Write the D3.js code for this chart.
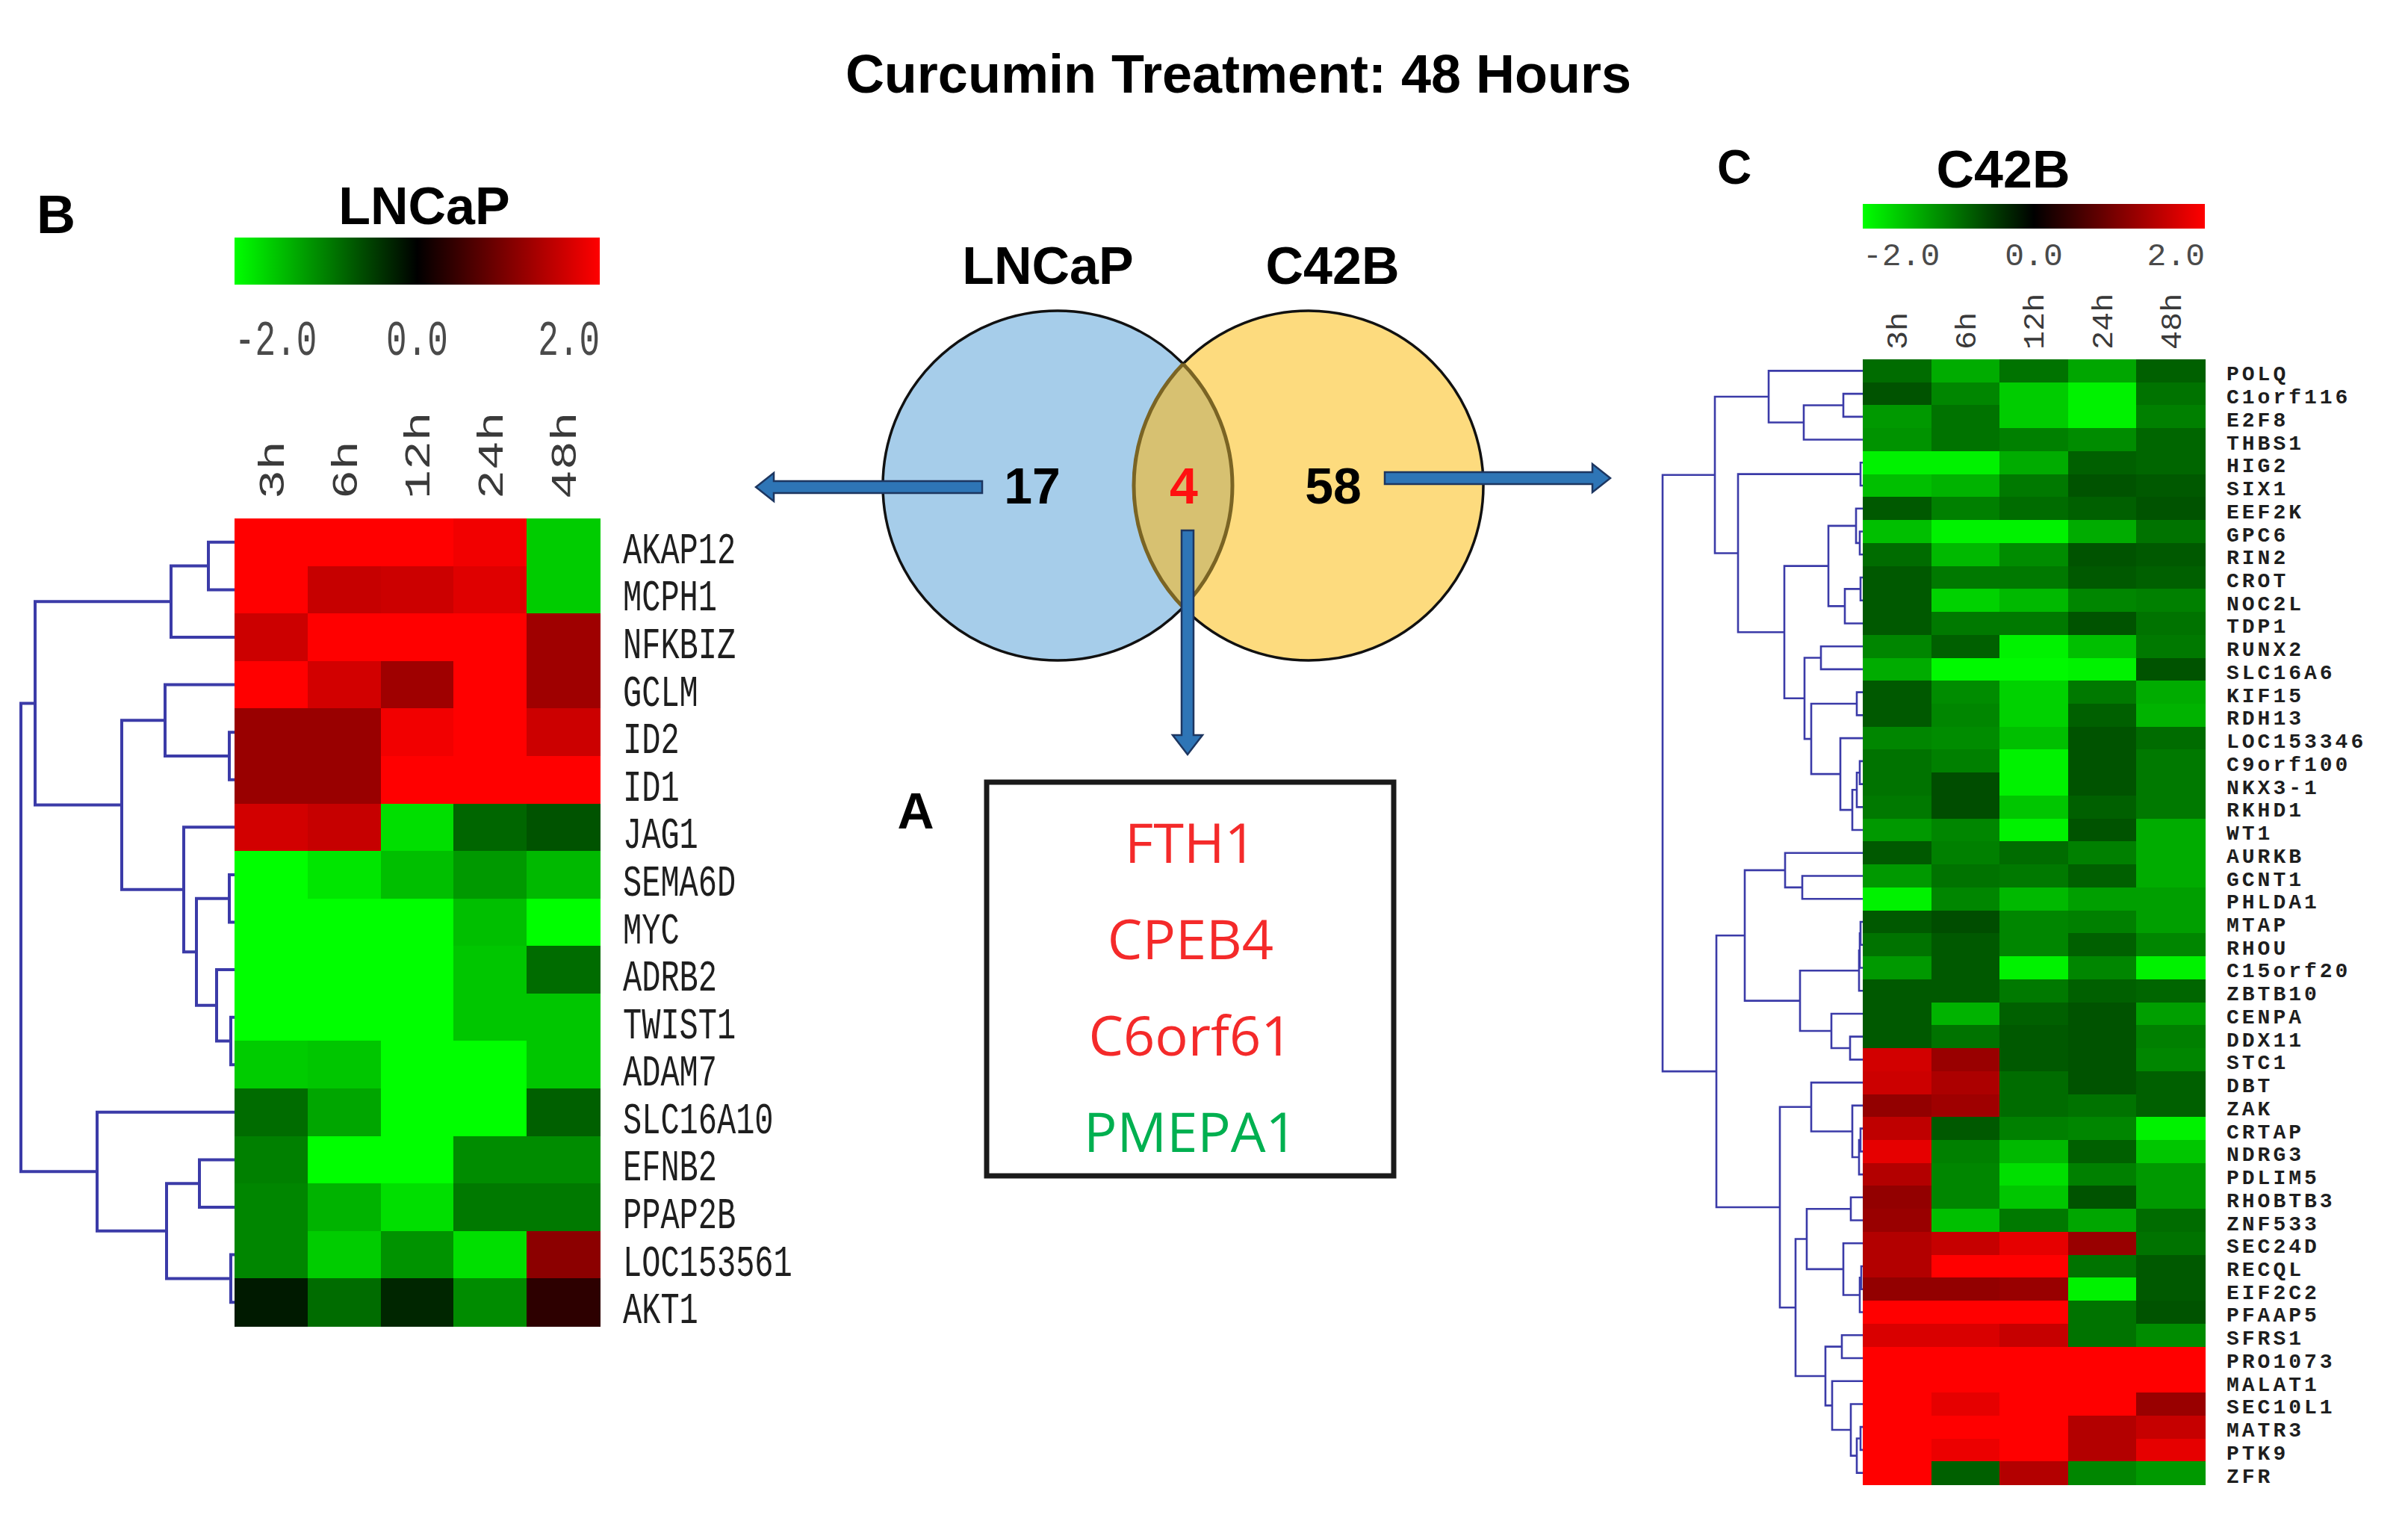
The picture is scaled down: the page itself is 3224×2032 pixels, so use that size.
<!DOCTYPE html>
<html>
<head>
<meta charset="utf-8">
<script src="https://cdn.jsdelivr.net/npm/d3@7"></script>
<style>
  html, body { margin: 0; padding: 0; background: #fff; }
  svg { display: block; }
</style>
</head>
<body>
<div id="chart"></div>
<script>
// ---- data ----
var timeLabels = ["3h", "6h", "12h", "24h", "48h"];
var colorTicks = [-2, 0, 2];

var lncapGenes = ["AKAP12", "MCPH1", "NFKBIZ", "GCLM", "ID2", "ID1", "JAG1", "SEMA6D", "MYC",
  "ADRB2", "TWIST1", "ADAM7", "SLC16A10", "EFNB2", "PPAP2B", "LOC153561", "AKT1"];

var lncapValues = [
  [2, 2, 2, 1.9, -1.6],
  [2, 1.55, 1.6, 1.75, -1.6],
  [1.6, 2, 2, 2, 1.25],
  [2, 1.65, 1.25, 2, 1.25],
  [1.2, 1.2, 1.9, 2, 1.6],
  [1.2, 1.2, 2, 2, 2],
  [1.65, 1.55, -1.75, -0.8, -0.65],
  [-2, -1.8, -1.5, -1.2, -1.45],
  [-2, -2, -2, -1.5, -2],
  [-2, -2, -2, -1.55, -0.85],
  [-2, -2, -2, -1.55, -1.55],
  [-1.6, -1.55, -2, -2, -1.55],
  [-0.85, -1.3, -2, -2, -0.75],
  [-1.0, -2, -2, -1.1, -1.1],
  [-1.05, -1.4, -1.75, -0.95, -0.95],
  [-1.05, -1.6, -1.15, -1.75, 1.1],
  [-0.2, -0.85, -0.3, -1.1, 0.35]
];

// [left, right, merge height]
var lncapTree = [
  [[["AKAP12", "MCPH1", 35], "NFKBIZ", 85],
   [["GCLM", ["ID2", "ID1", 7], 93],
    ["JAG1", [["SEMA6D", "MYC", 7], ["ADRB2", ["TWIST1", "ADAM7", 5], 24], 51], 68], 151], 267],
  ["SLC16A10", [["EFNB2", "PPAP2B", 47], ["LOC153561", "AKT1", 5], 91], 184],
  286];

var c42bGenes = ["POLQ", "C1orf116", "E2F8", "THBS1", "HIG2", "SIX1", "EEF2K", "GPC6", "RIN2",
  "CROT", "NOC2L", "TDP1", "RUNX2", "SLC16A6", "KIF15", "RDH13", "LOC153346", "C9orf100",
  "NKX3-1", "RKHD1", "WT1", "AURKB", "GCNT1", "PHLDA1", "MTAP", "RHOU", "C15orf20", "ZBTB10",
  "CENPA", "DDX11", "STC1", "DBT", "ZAK", "CRTAP", "NDRG3", "PDLIM5", "RHOBTB3", "ZNF533",
  "SEC24D", "RECQL", "EIF2C2", "PFAAP5", "SFRS1", "PRO1073", "MALAT1", "SEC10L1", "MATR3",
  "PTK9", "ZFR"];

var c42bValues = [
  [-0.85, -1.35, -0.9, -1.3, -0.75],
  [-0.65, -1.05, -1.6, -1.9, -0.9],
  [-1.2, -0.9, -1.6, -1.9, -1.0],
  [-1.15, -0.9, -1.0, -1.1, -0.8],
  [-1.9, -1.9, -1.35, -0.75, -0.8],
  [-1.5, -1.4, -0.95, -0.65, -0.7],
  [-0.7, -1.0, -0.85, -0.75, -0.65],
  [-1.5, -1.9, -1.9, -1.35, -0.9],
  [-0.85, -1.45, -1.1, -0.65, -0.7],
  [-0.7, -0.95, -0.95, -0.7, -0.75],
  [-0.7, -1.65, -1.45, -1.05, -1.0],
  [-0.7, -0.95, -0.95, -0.65, -0.9],
  [-1.05, -0.75, -1.9, -1.5, -0.95],
  [-1.35, -1.95, -1.95, -1.9, -0.65],
  [-0.7, -1.1, -1.65, -0.95, -1.35],
  [-0.7, -1.05, -1.65, -0.75, -1.4],
  [-1.05, -1.1, -1.5, -0.65, -0.85],
  [-0.9, -1.0, -1.9, -0.65, -0.95],
  [-0.9, -0.6, -1.9, -0.65, -0.95],
  [-0.95, -0.6, -1.55, -0.75, -0.95],
  [-1.2, -1.05, -1.9, -0.65, -1.35],
  [-0.7, -1.0, -0.85, -1.0, -1.35],
  [-1.2, -0.9, -0.95, -0.75, -1.35],
  [-1.9, -1.05, -1.45, -1.25, -1.25],
  [-0.7, -0.6, -1.05, -1.0, -1.25],
  [-0.9, -0.7, -1.05, -0.75, -1.05],
  [-1.2, -0.7, -1.9, -1.05, -1.9],
  [-0.7, -0.7, -0.95, -0.75, -0.8],
  [-0.7, -1.4, -0.75, -0.65, -1.25],
  [-0.7, -0.9, -0.7, -0.65, -1.0],
  [1.65, 1.2, -0.7, -0.65, -1.05],
  [1.6, 1.35, -0.85, -0.65, -0.75],
  [1.15, 1.25, -0.85, -0.9, -0.75],
  [1.5, -0.7, -1.0, -1.05, -1.9],
  [1.8, -1.0, -1.45, -0.75, -1.55],
  [1.4, -1.05, -1.75, -1.0, -1.2],
  [1.15, -1.05, -1.55, -0.65, -1.2],
  [1.2, -1.5, -0.95, -1.3, -0.85],
  [1.4, 1.55, 1.8, 1.2, -0.9],
  [1.4, 2, 2, -0.9, -0.7],
  [1.15, 1.15, 1.2, -1.9, -0.7],
  [2, 2, 2, -0.9, -0.65],
  [1.7, 1.7, 1.55, -0.9, -1.1],
  [2, 2, 2, 2, 2],
  [2, 2, 2, 2, 2],
  [2, 1.8, 2, 2, 1.2],
  [2, 2, 2, 1.4, 1.55],
  [2, 1.85, 2, 1.4, 1.8],
  [2, -0.75, 1.4, -1.05, -1.2]
];

var c42bTree = [
  [["POLQ", [["C1orf116", "E2F8", 26], "THBS1", 79], 126],
   [["HIG2", "SIX1", 3],
    [[["EEF2K", ["GPC6", "RIN2", 4], 9], [["CROT", "NOC2L", 3], "TDP1", 24], 46],
     [["RUNX2", "SLC16A6", 56],
      [["KIF15", "RDH13", 8],
       ["LOC153346", [[["C9orf100", "NKX3-1", 4], "RKHD1", 8], "WT1", 14], 30], 69], 78], 105], 167], 198],
  [[["AURKB", ["GCNT1", "PHLDA1", 81], 104],
    [[[["MTAP", "RHOU", 3], "C15orf20", 4], "ZBTB10", 5], ["CENPA", ["DDX11", "STC1", 17], 42], 84], 158],
   [["DBT", ["ZAK", [["CRTAP", "NDRG3", 3], "PDLIM5", 5], 14], 69],
    [[["RHOBTB3", "ZNF533", 16], ["SEC24D", [["RECQL", "EIF2C2", 2], "PFAAP5", 4], 26], 75],
     [["SFRS1", "PRO1073", 28], ["MALAT1", ["SEC10L1", [["MATR3", "PTK9", 3], "ZFR", 8], 16], 41], 50], 90], 111], 196],
  268];

var vennSets = ["LNCaP", "C42B"];
var vennCounts = [17, 4, 58];   // only LNCaP, both, only C42B
var commonGenes = ["FTH1", "CPEB4", "C6orf61", "PMEPA1"];
var commonDirection = ["up", "up", "up", "down"];

// ---- setup ----
var W = 3224, H = 2032;
var sans = "'Liberation Sans', Arial, sans-serif";
var mono = "'Liberation Mono', 'Courier New', monospace";
var treeColor = "#3b3ba8";

var color = d3.scaleLinear()
  .domain([-2, 0, 2])
  .range(["#00ff00", "#000000", "#ff0000"])
  .clamp(true);

var svg = d3.select("#chart").append("svg")
  .attr("width", W)
  .attr("height", H);

svg.append("rect").attr("width", W).attr("height", H).attr("fill", "#fff");

var defs = svg.append("defs");
var grad = defs.append("linearGradient").attr("id", "gsr");
d3.range(0, 1.0001, 0.05).forEach(function(t) {
  grad.append("stop")
    .attr("offset", t)
    .attr("stop-color", color(-2 + 4 * t));
});

// title
svg.append("text")
  .attr("x", 1658).attr("y", 124)
  .attr("text-anchor", "middle")
  .style("font-family", sans).style("font-weight", "bold").style("font-size", "72px")
  .text("Curcumin Treatment: 48 Hours");

// draws one heatmap panel with its dendrogram, colour key and labels
function drawPanel(p) {
  var g = svg.append("g");

  var x = d3.scaleBand().domain(timeLabels).range([p.left, p.right]);
  var y = d3.scaleBand().domain(p.genes).range([p.top, p.bottom]);
  var hx = d3.scaleLinear().domain([0, p.tree[2]]).range([p.left, p.rootX]);

  // panel letter and heading
  g.append("text")
    .attr("x", p.letterX).attr("y", p.letterY)
    .attr("text-anchor", "middle")
    .style("font-family", sans).style("font-weight", "bold").style("font-size", p.letterSize + "px")
    .text(p.letter);
  g.append("text")
    .attr("x", p.headX).attr("y", p.headY)
    .attr("text-anchor", "middle")
    .style("font-family", sans).style("font-weight", "bold").style("font-size", "70px")
    .text(p.name);

  // colour key
  g.append("rect")
    .attr("x", p.left).attr("y", p.keyTop)
    .attr("width", p.right - p.left).attr("height", p.keyH)
    .attr("fill", "url(#gsr)");

  var keyX = d3.scaleLinear().domain([-2, 2]).range([p.left, p.right]);
  g.selectAll("text.tick")
    .data(colorTicks)
    .join("text")
    .attr("class", "tick")
    .attr("transform", function(d) { return "translate(" + keyX(d) + "," + p.tickY + ") scale(1," + p.tickStretch + ")"; })
    .attr("text-anchor", function(d, i) { return i === 0 ? "start" : (i === colorTicks.length - 1 ? "end" : "middle"); })
    .style("font-family", mono).style("font-size", p.tickSize + "px")
    .attr("fill", "#4a4a4a")
    .text(function(d) { return d.toFixed(1); });

  // column labels
  g.selectAll("text.col")
    .data(timeLabels)
    .join("text")
    .attr("class", "col")
    .attr("transform", function(d) {
      return "translate(" + (x(d) + x.bandwidth() / 2) + "," + p.colY + ") rotate(-90) scale(" + p.colStretch + ",1)";
    })
    .attr("dy", "0.35em")
    .style("font-family", mono).style("font-size", p.colSize + "px")
    .attr("fill", "#3a3a3a")
    .text(function(d) { return d; });

  // cells
  var cells = [];
  p.genes.forEach(function(gene, i) {
    p.values[i].forEach(function(v, j) {
      cells.push({ gene: gene, time: timeLabels[j], v: v });
    });
  });
  g.append("g").attr("shape-rendering", "crispEdges")
    .selectAll("rect")
    .data(cells)
    .join("rect")
    .attr("x", function(d) { return x(d.time); })
    .attr("y", function(d) { return y(d.gene); })
    .attr("width", x.bandwidth() + 0.7)
    .attr("height", y.bandwidth() + 0.7)
    .attr("fill", function(d) { return color(d.v); });

  // row labels
  g.selectAll("text.row")
    .data(p.genes)
    .join("text")
    .attr("class", "row")
    .attr("transform", function(d) {
      return "translate(" + p.labelX + "," + (y(d) + y.bandwidth() / 2 + p.labelDy) + ") scale(1," + p.labelStretch + ")";
    })
    .style("font-family", mono).style("font-size", p.labelSize + "px")
    .style("font-weight", p.labelWeight)
    .style("letter-spacing", p.labelSpacing + "px")
    .attr("fill", "#1e1e1e")
    .text(function(d) { return d; });

  // dendrogram
  var segs = [];
  function walk(node) {
    if (typeof node === "string") return { y: y(node) + y.bandwidth() / 2, h: 0 };
    var a = walk(node[0]), b = walk(node[1]), h = node[2];
    segs.push("M" + hx(a.h) + "," + a.y + "H" + hx(h) + "V" + b.y + "H" + hx(b.h));
    return { y: (a.y + b.y) / 2, h: h };
  }
  walk(p.tree);
  g.append("path")
    .attr("d", segs.join(""))
    .attr("fill", "none")
    .attr("stroke", treeColor)
    .attr("stroke-width", p.treeWidth);
}

drawPanel({
  letter: "B", letterX: 75, letterY: 312, letterSize: 72,
  name: "LNCaP", headX: 568, headY: 300,
  genes: lncapGenes, values: lncapValues, tree: lncapTree,
  left: 314, right: 803, top: 694, bottom: 1775, rootX: 28,
  keyTop: 318, keyH: 63,
  tickY: 475, tickSize: 46, tickStretch: 1.45,
  colY: 668, colSize: 48, colStretch: 1.35,
  labelX: 834, labelDy: 28, labelSize: 42, labelStretch: 1.4, labelWeight: "normal", labelSpacing: 0,
  treeWidth: 4
});

drawPanel({
  letter: "C", letterX: 2322, letterY: 246, letterSize: 64,
  name: "C42B", headX: 2682, headY: 251,
  genes: c42bGenes, values: c42bValues, tree: c42bTree,
  left: 2494, right: 2952, top: 481, bottom: 1987, rootX: 2226,
  keyTop: 273, keyH: 33,
  tickY: 355, tickSize: 43, tickStretch: 1,
  colY: 468, colSize: 38, colStretch: 1.1,
  labelX: 2981, labelDy: 13, labelSize: 28, labelStretch: 1, labelWeight: "bold", labelSpacing: 4,
  treeWidth: 2.6
});

// ---- Venn diagram ----
var venn = svg.append("g");
var r = 234, cy = 650;
var cx = [1416, 1752];

defs.append("clipPath").attr("id", "clipBlue")
  .append("circle").attr("cx", cx[0]).attr("cy", cy).attr("r", r);
defs.append("clipPath").attr("id", "clipYellow")
  .append("circle").attr("cx", cx[1]).attr("cy", cy).attr("r", r);

venn.append("circle").attr("cx", cx[0]).attr("cy", cy).attr("r", r)
  .attr("fill", "#a6cdea").attr("stroke", "#111").attr("stroke-width", 3.5);
venn.append("circle").attr("cx", cx[1]).attr("cy", cy).attr("r", r)
  .attr("fill", "#fddb7e").attr("stroke", "#111").attr("stroke-width", 3.5);
venn.append("circle").attr("cx", cx[1]).attr("cy", cy).attr("r", r)
  .attr("clip-path", "url(#clipBlue)")
  .attr("fill", "#d7c171").attr("stroke", "#7a6424").attr("stroke-width", 5);
venn.append("circle").attr("cx", cx[0]).attr("cy", cy).attr("r", r)
  .attr("clip-path", "url(#clipYellow)")
  .attr("fill", "none").attr("stroke", "#7a6424").attr("stroke-width", 5);

venn.selectAll("text.set")
  .data(vennSets)
  .join("text")
  .attr("class", "set")
  .attr("x", function(d, i) { return [1403, 1784][i]; })
  .attr("y", 380)
  .attr("text-anchor", "middle")
  .style("font-family", sans).style("font-weight", "bold").style("font-size", "70px")
  .text(function(d) { return d; });

venn.selectAll("text.count")
  .data(vennCounts)
  .join("text")
  .attr("class", "count")
  .attr("x", function(d, i) { return [1382, 1585, 1785][i]; })
  .attr("y", 674)
  .attr("text-anchor", "middle")
  .style("font-family", sans).style("font-weight", "bold").style("font-size", "68px")
  .attr("fill", function(d, i) { return i === 1 ? "#ff1010" : "#000"; })
  .text(function(d) { return d; });

// block arrows
function arrow(x1, y1, x2, y2, shaft, head, headLen) {
  var dx = x2 - x1, dy = y2 - y1, len = Math.sqrt(dx * dx + dy * dy);
  var ux = dx / len, uy = dy / len, nx = -uy, ny = ux;
  var bx = x2 - ux * headLen, by = y2 - uy * headLen;
  var pts = [
    [x1 + nx * shaft, y1 + ny * shaft],
    [bx + nx * shaft, by + ny * shaft],
    [bx + nx * head, by + ny * head],
    [x2, y2],
    [bx - nx * head, by - ny * head],
    [bx - nx * shaft, by - ny * shaft],
    [x1 - nx * shaft, y1 - ny * shaft]
  ];
  venn.append("polygon")
    .attr("points", pts.map(function(q) { return q.join(","); }).join(" "))
    .attr("fill", "#2e75b6")
    .attr("stroke", "#1d3660")
    .attr("stroke-width", 2.5)
    .attr("stroke-linejoin", "miter");
}
arrow(1315, 652, 1012, 652, 8, 19, 24);
arrow(1854, 640, 2156, 640, 8, 19, 24);
arrow(1590, 710, 1590, 1010, 8, 20, 26);

// ---- box A with shared genes ----
venn.append("text")
  .attr("x", 1226).attr("y", 1109)
  .attr("text-anchor", "middle")
  .style("font-family", sans).style("font-weight", "bold").style("font-size", "68px")
  .text("A");

venn.append("rect")
  .attr("x", 1321).attr("y", 1047)
  .attr("width", 545).attr("height", 527)
  .attr("fill", "none").attr("stroke", "#1a1a1a").attr("stroke-width", 7);

var geneY = d3.scalePoint().domain(commonGenes).range([1155, 1542]);
venn.selectAll("text.common")
  .data(commonGenes)
  .join("text")
  .attr("class", "common")
  .attr("x", 1594)
  .attr("y", function(d) { return geneY(d); })
  .attr("text-anchor", "middle")
  .style("font-family", "'Open Sans', sans-serif").style("font-size", "74px")
  .attr("fill", function(d, i) { return commonDirection[i] === "up" ? "#f42a2a" : "#00b050"; })
  .text(function(d) { return d; });
</script>
</body>
</html>
